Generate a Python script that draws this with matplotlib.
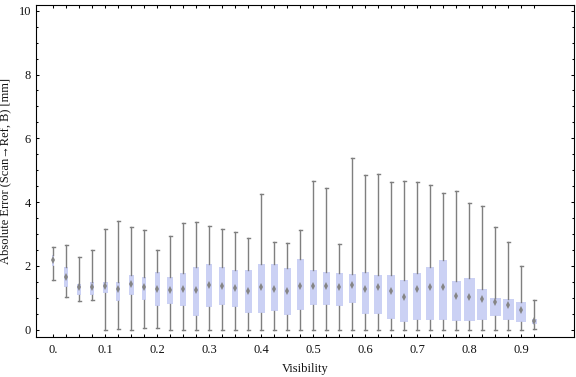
import matplotlib
matplotlib.use("Agg")
import matplotlib.pyplot as plt
import numpy as np

plt.rcParams['font.family'] = ['Liberation Serif', 'DejaVu Serif']

# ---------------- data ----------------
visibility = [0.0, 0.025, 0.05, 0.075, 0.1, 0.125, 0.15, 0.175, 0.2, 0.225,
              0.25, 0.275, 0.3, 0.325, 0.35, 0.375, 0.4, 0.425, 0.45, 0.475,
              0.5, 0.525, 0.55, 0.575, 0.6, 0.625, 0.65, 0.675, 0.7, 0.725,
              0.75, 0.775, 0.8, 0.825, 0.85, 0.875, 0.9, 0.925]

whisker_low = [1.55, 1.03, 0.89, 0.92, 0.0, 0.02, 0.0, 0.05, 0.05, 0.0,
               0.0, 0.0, 0.0, 0.0, 0.0, 0.0, 0.0, 0.0, 0.0, 0.0,
               0.0, 0.0, 0.0, 0.0, 0.0, 0.0, 0.0, 0.0, 0.0, 0.0,
               0.0, 0.0, 0.0, 0.0, 0.0, 0.0, 0.0, 0.02]
q1 = [2.01, 1.33, 1.10, 1.08, 1.14, 0.91, 1.10, 0.92, 0.73, 0.82,
      0.73, 0.42, 0.70, 0.76, 0.70, 0.51, 0.52, 0.58, 0.45, 0.61,
      0.76, 0.76, 0.73, 0.83, 0.48, 0.48, 0.32, 0.23, 0.29, 0.29,
      0.29, 0.26, 0.26, 0.29, 0.42, 0.29, 0.23, 0.18]
median = [2.17, 1.66, 1.34, 1.34, 1.37, 1.26, 1.44, 1.34, 1.26, 1.23,
          1.26, 1.23, 1.40, 1.36, 1.31, 1.20, 1.34, 1.28, 1.21, 1.38,
          1.37, 1.37, 1.34, 1.41, 1.28, 1.35, 1.21, 1.03, 1.26, 1.34,
          1.34, 1.05, 1.04, 0.97, 0.88, 0.76, 0.61, 0.26]
q3 = [2.35, 1.95, 1.44, 1.48, 1.51, 1.48, 1.73, 1.66, 1.82, 1.66,
      1.79, 1.98, 2.07, 1.95, 1.88, 1.88, 2.07, 2.07, 1.92, 2.23,
      1.88, 1.82, 1.79, 1.76, 1.82, 1.73, 1.70, 1.57, 1.79, 1.98,
      2.17, 1.54, 1.63, 1.29, 0.98, 0.97, 0.88, 0.35]
whisker_high = [2.60, 2.65, 2.28, 2.51, 3.16, 3.42, 3.22, 3.13, 2.51, 2.94,
                3.36, 3.39, 3.25, 3.16, 3.07, 2.88, 4.27, 2.75, 2.72, 3.13,
                4.67, 4.45, 2.69, 5.39, 4.84, 4.89, 4.64, 4.67, 4.64, 4.54,
                4.30, 4.35, 3.98, 3.87, 3.22, 2.75, 2.00, 0.93]

x_tick_values = [0.0, 0.1, 0.2, 0.3, 0.4, 0.5, 0.6, 0.7, 0.8, 0.9]
x_tick_labels = ["0.", "0.1", "0.2", "0.3", "0.4", "0.5", "0.6", "0.7", "0.8", "0.9"]
y_tick_values = [0, 2, 4, 6, 8, 10]
y_tick_labels = ["0", "2", "4", "6", "8", "10"]

# ---------------- style ----------------
box_width_px = [2.3, 4.3, 4.3, 4.0, 5.0, 4.0, 5.3, 4.0, 4.7, 6.0,
                6.0, 6.0, 6.0, 6.0, 6.0, 6.7, 6.7, 7.0, 7.0, 7.0,
                7.0, 7.0, 7.0, 7.0, 7.3, 7.7, 8.0, 8.0, 8.3, 8.3,
                8.3, 8.7, 11.0, 10.0, 11.0, 11.0, 10.0, 5.0]
BOX_COLOR = '#cbd1f4'
WHISKER_COLOR = '#7f7f7f'
MEDIAN_COLOR = '#858585'
TEXT_COLOR = '#111111'

W, H = 576, 377
fig = plt.figure(figsize=(W / 100, H / 100), dpi=100)
ax_left, ax_right, ax_top, ax_bottom = 36, 574.3, 4.7, 336.7
ax = fig.add_axes([ax_left / W, 1 - ax_bottom / H,
                   (ax_right - ax_left) / W, (ax_bottom - ax_top) / H])

xlim = (-0.0333, 1.002)
ax.set_xlim(*xlim)
ax.set_ylim(-0.22, 10.19)
px_per_unit = (ax_right - ax_left) / (xlim[1] - xlim[0])

stats = []
for i in range(len(visibility)):
    stats.append(dict(med=median[i], q1=q1[i], q3=q3[i],
                      whislo=whisker_low[i], whishi=whisker_high[i], fliers=[]))

widths = [w / px_per_unit for w in box_width_px]
capw = 2.8 / px_per_unit
ax.bxp(stats, positions=visibility, widths=widths, capwidths=[capw] * len(stats),
       patch_artist=True, showfliers=False, manage_ticks=False,
       boxprops=dict(facecolor=BOX_COLOR, edgecolor='none', linewidth=0),
       whiskerprops=dict(color=WHISKER_COLOR, linewidth=1.0),
       capprops=dict(color=WHISKER_COLOR, linewidth=1.0),
       medianprops=dict(linewidth=0, color='none'))

ax.plot(visibility, median, linestyle='none', marker='d', markersize=4,
        color=MEDIAN_COLOR, markeredgewidth=0, zorder=5)

# ticks
ax.set_xticks(x_tick_values)
ax.set_xticklabels(x_tick_labels)
ax.set_xticks(visibility, minor=True)
ax.set_yticks(y_tick_values)
ax.set_yticklabels(y_tick_labels)
ax.set_yticks(np.arange(0, 10.01, 0.5), minor=True)

ax.tick_params(axis='x', which='both', direction='in', top=True, bottom=True,
               length=2.4, width=0.75, colors='black', labelcolor=TEXT_COLOR,
               labelsize=9, pad=5)
ax.tick_params(axis='y', which='major', direction='in', left=True, right=True,
               length=2.2, width=0.75, colors='black', labelcolor=TEXT_COLOR,
               labelsize=9, pad=3.5)
ax.tick_params(axis='y', which='minor', direction='in', left=True, right=True,
               length=1.3, width=0.75, colors='black')

for s in ax.spines.values():
    s.set_linewidth(0.8)
    s.set_color('black')

ax.set_xlabel('Visibility', fontsize=9, color=TEXT_COLOR, labelpad=5)
ax.set_ylabel('Absolute Error (Scan\u2192Ref, B) [mm]', fontsize=9,
              color=TEXT_COLOR, labelpad=5)

fig.savefig('out.png', dpi=100)
